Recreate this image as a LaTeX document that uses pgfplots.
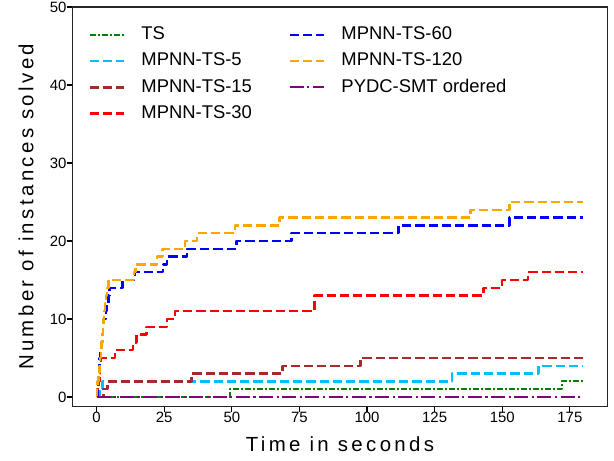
\documentclass[border=0pt]{standalone}
\usepackage{fontspec}
\setmainfont{Liberation Sans}
\newfontfamily\labfont[LetterSpace=16.5]{Liberation Sans}
\usepackage{pgfplots}
\pgfplotsset{compat=1.18}
\definecolor{mgreen}{RGB}{0,128,0}
\definecolor{mcyan}{RGB}{0,191,255}
\definecolor{mbrown}{RGB}{165,42,42}
\definecolor{mred}{RGB}{255,0,0}
\definecolor{mblue}{RGB}{0,0,255}
\definecolor{morange}{RGB}{255,165,0}
\definecolor{mpurple}{RGB}{128,0,128}
\pgfplotsset{
  sTS/.style={color=mgreen, line width=2bp, dash pattern=on 6bp off 2bp on 2bp off 2bp, line join=round},
  sDash/.style={line width=2.5bp, dash pattern=on 9.25bp off 4bp, line join=round},
  sP/.style={color=mpurple, line width=2.2bp, dash pattern=on 14bp off 3.5bp on 2.2bp off 3.5bp, line join=round},
}
\begin{document}
\begin{tikzpicture}
\begin{axis}[
  name=ax,
  scale only axis, width=535.4bp, height=399.7bp,
  xmin=-9, xmax=189, ymin=-1.25, ymax=50,
  xtick={0,25,...,175}, ytick={0,10,...,50},
  tick pos=left, tick align=outside, major tick length=5.6bp,
  every tick/.style={black, line width=1.1bp},
  axis line style={black!85, line width=1.2bp},
  /pgf/number format/assume math mode=true,
  tick label style={font=\fontsize{15}{18}\selectfont, inner sep=0pt},
  xticklabel style={anchor=north},
  yticklabel style={anchor=east},
  xlabel={Time in seconds}, ylabel={Number of instances solved},
  label style={font=\labfont\fontsize{20.5}{24}\selectfont, inner sep=0pt},
  xlabel style={at={(axis description cs:0.5,-0.1126)}, anchor=base},
  ylabel style={at={(axis description cs:-0.0728,0.5)}, anchor=base},
  legend columns=2,
  legend cell align=left,
  legend style={draw=none, fill=none, inner sep=0pt, outer sep=0pt,
    at={(rel axis cs:0,1)}, anchor=north west, xshift=16bp, yshift=-19.3bp,
    font=\fontsize{18.5}{22}\selectfont, row sep=8.6bp,
    nodes={inner sep=0pt, text height=13.5bp, text depth=4bp},
    /tikz/column 1/.style={column sep=16.6bp},
    /tikz/column 2/.style={column sep=36.4bp},
    /tikz/column 3/.style={column sep=16.6bp}},
  legend image code/.code={\draw[#1] (0bp,0bp) -- (34bp,0bp);},
]
% TS
\addplot[sTS, const plot, forget plot] coordinates {(0,0) (49.2,1) (172.1,2) (180,2)};
% MPNN-TS-5
\addplot[sDash, color=mcyan, const plot, forget plot] coordinates {(0,0) (1.0,1) (2.2,2) (131.5,3) (163.4,4) (180,4)};
% MPNN-TS-15
\addplot[sDash, color=mbrown, const plot, forget plot] coordinates {(0,0) (2.5,1) (4.0,2) (35.1,3) (68.7,4) (97.6,5) (180,5)};
% MPNN-TS-30
\addplot[sDash, color=mred, const plot, forget plot] coordinates {(0,0) (0.4,1) (0.7,2) (1.0,3) (1.3,4) (1.7,5) (6.8,6) (13.5,7) (14.8,8) (18.5,9) (26.1,10) (28.9,11) (80.6,13) (143.0,14) (149.9,15) (159.5,16) (180,16)};
% MPNN-TS-60
\addplot[sDash, color=mblue, const plot, forget plot] coordinates {(0,0) (0.3,1) (0.5,2) (0.7,3) (0.9,4) (1.1,5) (1.4,6) (1.7,7) (2.0,8) (2.3,9) (2.6,10) (3.5,11) (3.9,12) (4.3,13) (4.8,14) (9.5,15) (14.2,16) (24.6,17) (26.1,18) (33.5,19) (51.7,20) (72.0,21) (111.6,22) (152.6,23) (180,23)};
% MPNN-TS-120
\addplot[sDash, color=morange, const plot, forget plot] coordinates {(0,0) (0.2,1) (0.4,2) (0.7,3) (1.0,4) (1.3,5) (1.6,6) (1.8,7) (2.1,8) (2.3,9) (2.5,10) (2.8,11) (3.1,12) (3.4,13) (3.8,14) (4.3,15) (13.8,16) (14.4,17) (22.4,18) (24.4,19) (32.6,20) (37.2,21) (51.1,22) (67.7,23) (138.2,24) (152.6,25) (180,25)};
% PYDC-SMT ordered
\addplot[sP, forget plot] coordinates {(0,0) (180,0)};

\addlegendimage{sTS}\addlegendentry{TS}
\addlegendimage{sDash, color=mblue}\addlegendentry{MPNN-TS-60}
\addlegendimage{sDash, color=mcyan}\addlegendentry{MPNN-TS-5}
\addlegendimage{sDash, color=morange}\addlegendentry{MPNN-TS-120}
\addlegendimage{sDash, color=mbrown}\addlegendentry{MPNN-TS-15}
\addlegendimage{sP}\addlegendentry{PYDC-SMT ordered}
\addlegendimage{sDash, color=mred}\addlegendentry{MPNN-TS-30}
\end{axis}
\pgfresetboundingbox
\path[use as bounding box] ([xshift=-72.3bp,yshift=-54.3bp]ax.south west) rectangle ([xshift=6.3bp,yshift=7bp]ax.north east);
\end{tikzpicture}
\end{document}
